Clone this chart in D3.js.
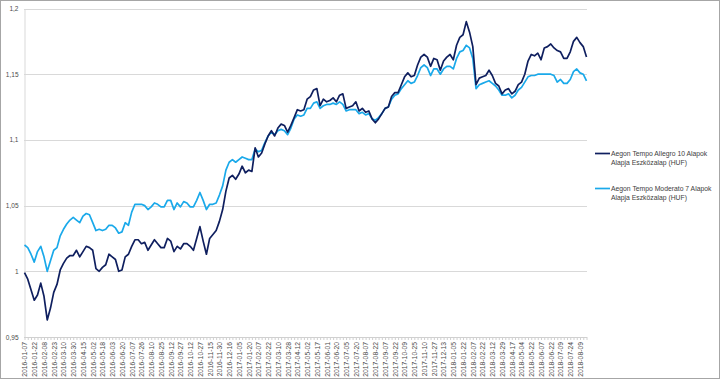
<!DOCTYPE html>
<html><head><meta charset="utf-8">
<script src="https://cdn.jsdelivr.net/npm/d3@7"></script>
<style>html,body{margin:0;padding:0;background:#fff;}svg{display:block;}</style>
</head><body>
<svg id="chart" width="721" height="381"></svg>
<script>
const tickLabels = ["2016-01-07","2016-01-22","2016-02-08","2016-02-23","2016-03-10","2016-03-30","2016-04-15","2016-05-02","2016-05-18","2016-06-03","2016-06-20","2016-07-07","2016-07-26","2016-08-10","2016-08-25","2016-09-12","2016-09-27","2016-10-12","2016-10-27","2016-11-15","2016-11-30","2016-12-16","2017-01-05","2017-01-20","2017-02-07","2017-02-22","2017-03-10","2017-03-28","2017-04-12","2017-05-02","2017-05-17","2017-06-01","2017-06-20","2017-07-05","2017-07-20","2017-08-07","2017-08-22","2017-09-07","2017-09-22","2017-10-09","2017-10-25","2017-11-10","2017-11-27","2017-12-13","2018-01-05","2018-01-22","2018-02-07","2018-02-22","2018-03-12","2018-03-29","2018-04-17","2018-05-04","2018-05-22","2018-06-07","2018-06-22","2018-07-09","2018-07-24","2018-08-09"];
const samplesPerLabel = 3;
const yTicks = [0.95, 1, 1.05, 1.1, 1.15, 1.2];
const seriesNames = ["Aegon Tempo Allegro 10 Alapok|Alapja Eszközalap (HUF)", "Aegon Tempo Moderato 7 Alapok|Alapja Eszközalap (HUF)"];
const allegro = [
0.999,0.994,0.986,0.978,0.982,0.991,0.981,0.963,0.972,0.984,0.990,1.001,1.006,1.010,1.012,1.012,1.016,1.011,1.015,1.019,1.018,1.016,1.002,1.000,1.003,1.005,1.013,1.011,1.009,1.000,1.001,1.011,1.013,1.019,1.024,1.024,1.021,1.022,1.016,1.020,1.024,1.021,1.018,1.018,
1.025,1.023,1.015,1.019,1.017,1.021,1.021,1.019,1.016,1.025,1.034,1.023,1.013,1.025,1.028,1.031,1.038,1.047,1.061,1.071,1.073,1.070,1.074,1.080,1.075,1.077,1.076,1.094,1.087,1.090,1.097,1.103,1.107,1.103,1.109,1.112,1.111,1.106,1.111,1.117,1.123,1.122,1.123,
1.131,1.133,1.138,1.139,1.126,1.131,1.129,1.130,1.132,1.129,1.134,1.135,1.124,1.125,1.126,1.129,1.122,1.124,1.121,1.122,1.116,1.113,1.116,1.120,1.124,1.125,1.133,1.136,1.136,1.142,1.148,1.151,1.148,1.149,1.157,1.163,1.165,1.163,1.156,1.162,1.161,1.153,1.160,
1.163,1.165,1.161,1.172,1.178,1.180,1.190,1.182,1.171,1.142,1.147,1.148,1.149,1.153,1.149,1.143,1.141,1.135,1.138,1.139,1.135,1.137,1.142,1.144,1.150,1.160,1.165,1.164,1.166,1.161,1.170,1.171,1.173,1.170,1.168,1.167,1.162,1.162,1.167,1.175,1.178,1.174,1.171,1.163];
const moderato = [
1.020,1.018,1.013,1.007,1.015,1.019,1.011,1.000,1.008,1.016,1.018,1.027,1.032,1.036,1.039,1.041,1.039,1.037,1.042,1.044,1.043,1.037,1.031,1.032,1.031,1.032,1.035,1.035,1.033,1.029,1.030,1.037,1.035,1.045,1.051,1.051,1.051,1.050,1.047,1.049,1.052,1.051,1.049,1.049,
1.054,1.054,1.047,1.052,1.049,1.053,1.052,1.049,1.049,1.054,1.060,1.054,1.047,1.051,1.051,1.052,1.058,1.065,1.077,1.083,1.085,1.083,1.085,1.087,1.086,1.085,1.085,1.093,1.091,1.092,1.098,1.103,1.106,1.104,1.107,1.108,1.107,1.104,1.109,1.116,1.119,1.118,1.119,
1.124,1.124,1.128,1.129,1.124,1.126,1.127,1.127,1.128,1.127,1.129,1.127,1.122,1.123,1.123,1.123,1.120,1.121,1.119,1.120,1.116,1.115,1.117,1.120,1.124,1.125,1.131,1.134,1.135,1.139,1.142,1.145,1.143,1.144,1.149,1.155,1.157,1.155,1.149,1.154,1.154,1.150,1.154,
1.156,1.156,1.154,1.162,1.167,1.168,1.172,1.170,1.162,1.139,1.142,1.143,1.144,1.145,1.143,1.141,1.138,1.134,1.134,1.135,1.132,1.134,1.138,1.140,1.144,1.148,1.149,1.149,1.150,1.150,1.150,1.150,1.150,1.149,1.144,1.146,1.143,1.143,1.146,1.152,1.154,1.151,1.150,1.145];

const colors = ["#0f1f5f", "#1aa9ea"];
const svg = d3.select("#chart");
const font = "'Liberation Sans', Arial, sans-serif";

svg.append("rect").attr("x",0.5).attr("y",0.5).attr("width",719).attr("height",378)
  .attr("fill","#fff").attr("stroke","#a6a6a6").attr("stroke-width",1);

const plotLeft = 24, plotRight = 587, plotTop = 8.5, plotBottom = 337;
const N = allegro.length;
const x = d3.scaleLinear().domain([0, N - 1]).range([plotLeft + 0.5, 586.5]);
const y = d3.scaleLinear().domain([0.95, 1.2]).range([plotBottom, plotTop]);

// grid
svg.append("g").selectAll("line").data(yTicks.filter(d => d > 0.95)).join("line")
  .attr("x1", plotLeft).attr("x2", plotRight)
  .attr("y1", d => Math.round(y(d)) + 0.5).attr("y2", d => Math.round(y(d)) + 0.5)
  .attr("stroke", "#d9d9d9").attr("stroke-width", 1);

// y axis
const yAxis = d3.axisLeft(y).tickValues(yTicks).tickSize(0).tickPadding(6)
  .tickFormat(d => String(+d.toFixed(2)).replace(".", ","));
const gy = svg.append("g").attr("transform", `translate(${plotLeft + 0.5},0)`).call(yAxis);
gy.select(".domain").attr("stroke", "#d9d9d9");
gy.selectAll("text").attr("font-family", font).attr("font-size", 6.5).attr("fill", "#4a4a4a");

// x axis ticks band
const tickIdx = tickLabels.map((_, j) => j * samplesPerLabel);
const xAxisTicks = d3.axisBottom(x).tickValues(d3.range(0, N)).tickSize(3).tickFormat("");
const gxt = svg.append("g").attr("transform", `translate(0,${plotBottom})`).call(xAxisTicks);
gxt.select(".domain").attr("stroke", "#d0d0d0").attr("d", `M${plotLeft},0.5H${plotRight}`);
gxt.selectAll(".tick line").attr("stroke", "#d0d0d0");

const xAxis = d3.axisBottom(x).tickValues(tickIdx).tickSize(0)
  .tickFormat((d, i) => tickLabels[i]);
const gx = svg.append("g").attr("transform", `translate(0,${plotBottom})`).call(xAxis);
gx.select(".domain").remove();
gx.selectAll("text")
  .attr("font-family", font).attr("font-size", 6.8).attr("fill", "#4a4a4a")
  .attr("text-anchor", "end")
  .attr("transform", "rotate(-90)")
  .attr("x", -5).attr("y", 0).attr("dy", "0.35em");

// lines
const line = d3.line().x((d, i) => x(i)).y(d => y(d));
const series = [allegro, moderato];
[1, 0].forEach(k => {
  svg.append("path").datum(series[k]).attr("d", line)
    .attr("fill", "none").attr("stroke", colors[k]).attr("stroke-width", 1.7)
    .attr("stroke-linejoin", "round");
});

// legend
const lg = svg.append("g");
const legendY = [153.5, 188.5];
seriesNames.forEach((name, k) => {
  const g = lg.append("g").attr("transform", `translate(595,${legendY[k]})`);
  g.append("line").attr("x1", 0).attr("x2", 15).attr("y1", 0).attr("y2", 0)
    .attr("stroke", colors[k]).attr("stroke-width", 1.7);
  const t = g.append("text").attr("font-family", font).attr("font-size", 6.8).attr("fill", "#404040");
  name.split("|").forEach((s, li) => {
    t.append("tspan").attr("x", 16).attr("y", li * 9.5).attr("dy", "0.35em").text(s);
  });
});
</script>
</body></html>
